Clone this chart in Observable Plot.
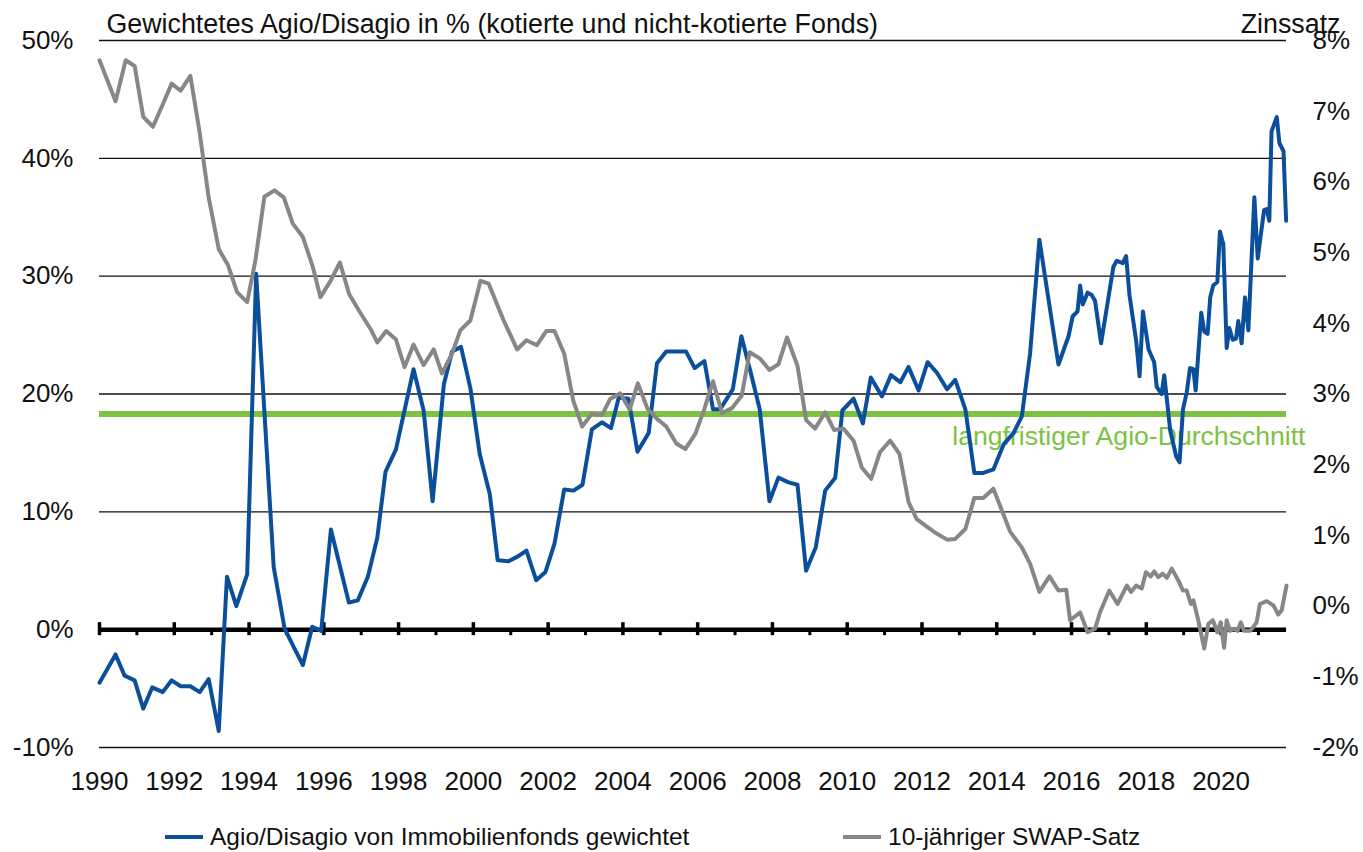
<!DOCTYPE html>
<html><head><meta charset="utf-8">
<script src="https://cdn.jsdelivr.net/npm/d3@7"></script>
<script src="https://cdn.jsdelivr.net/npm/@observablehq/plot@0.6"></script>
<style>
body{margin:0;background:#fff;font-family:"Liberation Sans",Arial,sans-serif;color:#111;}
#chart{position:relative;width:1363px;height:852px;overflow:hidden;}
#chart svg{display:block;}
.legend{position:relative;width:1363px;height:52px;font-size:24.5px;}
.item{position:absolute;top:23px;display:flex;align-items:center;line-height:28px;white-space:nowrap;}
.sw{display:inline-block;width:38px;height:4px;margin-right:7px;}
</style></head><body><div id="chart"></div>
<script>
const titleText = "Gewichtetes Agio/Disagio in % (kotierte und nicht-kotierte Fonds)";
const rightTitle = "Zinssatz";
const avgLabel = "langfristiger Agio-Durchschnitt";
const seriesNames = ["Agio/Disagio von Immobilienfonds gewichtet", "10-jähriger SWAP-Satz"];
const seriesColors = ["#0b4f9c", "#878787"];
const avgColor = "#7dc242";

const agioYears = [1990.00,1990.43,1990.67,1990.94,1991.17,1991.41,1991.69,1991.93,1992.17,1992.43,
1992.68,1992.92,1993.19,1993.41,1993.66,1993.95,1994.19,1994.66,1994.95,1995.20,
1995.44,1995.69,1995.93,1996.19,1996.67,1996.91,1997.18,1997.43,1997.65,1997.93,
1998.40,1998.67,1998.91,1999.21,1999.43,1999.67,1999.92,2000.17,2000.44,2000.65,
2000.94,2001.18,2001.42,2001.68,2001.93,2002.17,2002.43,2002.68,2002.92,2003.17,
2003.44,2003.68,2003.89,2004.15,2004.39,2004.69,2004.91,2005.16,2005.42,2005.69,
2005.92,2006.18,2006.41,2006.60,2006.94,2007.17,2007.42,2007.66,2007.92,2008.16,
2008.43,2008.67,2008.90,2009.16,2009.41,2009.68,2009.87,2010.17,2010.42,2010.63,
2010.93,2011.17,2011.42,2011.64,2011.91,2012.15,2012.40,2012.67,2012.89,2013.16,
2013.40,2013.64,2013.91,2014.18,2014.45,2014.67,2014.89,2015.14,2015.65,2015.92,
2016.03,2016.16,2016.23,2016.30,2016.43,2016.54,2016.63,2016.79,2017.12,2017.21,
2017.37,2017.46,2017.55,2017.73,2017.82,2017.91,2018.06,2018.21,2018.28,2018.41,
2018.48,2018.64,2018.80,2018.89,2018.98,2019.08,2019.17,2019.26,2019.32,2019.47,
2019.55,2019.64,2019.71,2019.79,2019.90,2019.97,2020.06,2020.15,2020.22,2020.31,
2020.40,2020.46,2020.55,2020.64,2020.73,2020.89,2020.98,2021.15,2021.22,2021.29,
2021.35,2021.49,2021.56,2021.67,2021.74];
const agioValues = [-4.5,-2.1,-3.9,-4.3,-6.7,-4.9,-5.3,-4.3,-4.8,-4.8,
-5.3,-4.2,-8.6,4.5,2.0,4.7,30.2,5.3,0.1,-1.5,
-3.0,0.25,-0.1,8.5,2.3,2.5,4.5,7.8,13.4,15.3,
22.1,18.6,10.9,20.8,23.6,24.0,20.5,14.9,11.5,5.9,
5.8,6.2,6.7,4.2,4.9,7.3,11.9,11.8,12.3,17.0,
17.6,17.1,19.7,19.6,15.1,16.7,22.6,23.6,23.6,23.6,
22.2,22.8,18.7,18.7,20.4,24.9,21.8,18.7,10.9,12.9,
12.5,12.3,5.0,7.0,11.8,12.9,18.6,19.6,17.5,21.4,
19.8,21.6,21.0,22.3,20.3,22.7,21.8,20.4,21.2,18.7,
13.3,13.3,13.6,15.7,16.7,18.1,23.4,33.1,22.5,24.9,
26.6,27.0,29.2,27.6,28.6,28.4,27.9,24.3,30.8,31.3,
31.1,31.7,28.4,24.5,21.5,27.0,23.8,22.7,20.6,20.0,
21.6,16.9,14.7,14.2,18.7,20.1,22.2,22.1,20.3,26.9,
25.3,25.1,28.2,29.2,29.5,33.8,32.7,23.9,25.6,24.6,
24.7,26.2,24.3,28.2,25.4,36.7,31.5,35.6,35.7,34.7,
42.3,43.5,41.3,40.6,34.7];

const swapYears = [1990.00,1990.43,1990.70,1990.94,1991.17,1991.43,1991.68,1991.93,1992.17,1992.43,
1992.67,1992.92,1993.19,1993.44,1993.68,1993.95,1994.17,1994.41,1994.68,1994.93,
1995.17,1995.44,1995.71,1995.91,1996.18,1996.43,1996.68,1996.95,1997.25,1997.43,
1997.67,1997.93,1998.16,1998.40,1998.67,1998.94,1999.16,1999.43,1999.65,1999.92,
2000.19,2000.41,2000.81,2001.17,2001.42,2001.70,2001.95,2002.17,2002.43,2002.67,
2002.91,2003.17,2003.44,2003.66,2003.93,2004.18,2004.40,2004.66,2004.91,2005.16,
2005.43,2005.67,2005.94,2006.18,2006.41,2006.65,2006.92,2007.18,2007.39,2007.67,
2007.92,2008.16,2008.39,2008.67,2008.90,2009.14,2009.41,2009.65,2009.90,2010.17,
2010.39,2010.64,2010.88,2011.15,2011.40,2011.64,2011.86,2012.11,2012.38,2012.67,
2012.89,2013.16,2013.40,2013.64,2013.91,2014.14,2014.36,2014.67,2014.89,2015.14,
2015.41,2015.65,2015.86,2015.96,2016.23,2016.43,2016.63,2016.76,2017.01,2017.23,
2017.48,2017.59,2017.73,2017.88,2017.99,2018.12,2018.21,2018.32,2018.44,2018.55,
2018.68,2018.86,2018.98,2019.08,2019.19,2019.26,2019.39,2019.55,2019.66,2019.78,
2019.90,2019.99,2020.08,2020.15,2020.24,2020.35,2020.44,2020.53,2020.61,2020.78,
2020.95,2021.04,2021.22,2021.40,2021.53,2021.62,2021.75];
const swapValues = [7.72,7.14,7.72,7.64,6.92,6.78,7.08,7.39,7.29,7.50,
6.73,5.78,5.05,4.82,4.44,4.30,4.89,5.79,5.88,5.78,
5.41,5.22,4.79,4.37,4.60,4.86,4.41,4.17,3.92,3.73,
3.89,3.77,3.38,3.70,3.41,3.63,3.29,3.57,3.90,4.04,
4.60,4.56,4.04,3.63,3.76,3.69,3.89,3.89,3.57,2.91,
2.54,2.72,2.70,2.93,3.01,2.78,3.15,2.79,2.65,2.54,
2.30,2.22,2.44,2.79,3.18,2.73,2.80,2.98,3.59,3.50,
3.34,3.42,3.80,3.40,2.63,2.51,2.74,2.49,2.51,2.34,
1.96,1.80,2.18,2.34,2.15,1.47,1.23,1.13,1.03,0.94,
0.95,1.09,1.53,1.53,1.66,1.35,1.05,0.83,0.60,0.20,
0.42,0.22,0.23,-0.20,-0.09,-0.37,-0.32,-0.09,0.22,0.03,
0.29,0.20,0.29,0.25,0.48,0.42,0.49,0.41,0.46,0.40,
0.53,0.36,0.22,0.22,0.03,0.08,-0.20,-0.60,-0.25,-0.20,
-0.37,-0.23,-0.59,-0.20,-0.35,-0.32,-0.35,-0.23,-0.35,-0.35,
-0.23,0.03,0.07,0.01,-0.12,-0.06,0.29];

const averageAgio = 18.3;
const leftTicks = [-10, 0, 10, 20, 30, 40, 50];
const gridValues = [-10, 10, 20, 30, 40, 50];
const rightTicks = [-2, -1, 0, 1, 2, 3, 4, 5, 6, 7, 8];
const yearLabels = [1990,1992,1994,1996,1998,2000,2002,2004,2006,2008,2010,2012,2014,2016,2018,2020];
const minorYears = [1991,1993,1995,1997,1999,2001,2003,2005,2007,2009,2011,2013,2015,2017,2019,2021];
const xDomain = [1990, 2021.75];
const leftDomain = [-10, 50];
const rightDomain = [-2, 8];

// map right-axis (Zinssatz) values onto the left scale
const k = (leftDomain[1] - leftDomain[0]) / (rightDomain[1] - rightDomain[0]);
const toLeft = r => leftDomain[0] + (r - rightDomain[0]) * k;
const toRight = l => rightDomain[0] + (l - leftDomain[0]) / k;

const agio = agioYears.map((t, i) => ({t, v: agioValues[i]}));
const swap = swapYears.map((t, i) => ({t, v: toLeft(swapValues[i])}));
const avgData = [{t: xDomain[1], v: averageAgio, label: avgLabel}];

const font = "Liberation Sans, Arial, sans-serif";

const plot = Plot.plot({
  width: 1363, height: 800,
  marginTop: 40, marginBottom: 53, marginLeft: 99, marginRight: 77,
  style: {fontFamily: font, fontSize: "26px", color: "#111", background: "white", overflow: "visible"},
  x: {domain: xDomain, label: null},
  y: {domain: leftDomain, label: null},
  marks: [
    Plot.ruleY(gridValues, {stroke: "#111", strokeWidth: 1.4}),
    Plot.axisY(leftTicks, {anchor: "left", label: null, tickSize: 0, tickPadding: 26, tickFormat: d => d + "%", fontSize: 26, fill: "#111"}),
    Plot.axisY(rightTicks.map(toLeft), {anchor: "right", label: null, tickSize: 0, tickPadding: 26, tickFormat: d => Math.round(toRight(d)) + "%", fontSize: 26, fill: "#111"}),
    Plot.axisX(yearLabels, {anchor: "bottom", label: null, tickSize: 0, tickPadding: 24, tickFormat: d => String(d), fontSize: 26, fill: "#111"}),
    Plot.ruleY([0], {stroke: "#000", strokeWidth: 4.5}),
    Plot.ruleX(yearLabels, {y1: 0, y2: 0, insetTop: -7, insetBottom: -6, stroke: "#000", strokeWidth: 3.5}),
    Plot.ruleX(minorYears, {y1: 0, y2: 0, insetBottom: -6, stroke: "#000", strokeWidth: 3}),
    Plot.ruleY([averageAgio], {stroke: avgColor, strokeWidth: 6}),
    Plot.text(avgData, {x: "t", y: "v", text: "label", textAnchor: "end", dx: 19, dy: 22, fill: avgColor, fontSize: 26.6}),
    Plot.line(agio, {x: "t", y: "v", stroke: seriesColors[0], strokeWidth: 4, strokeLinejoin: "round"}),
    Plot.line(swap, {x: "t", y: "v", stroke: seriesColors[1], strokeWidth: 4, strokeLinejoin: "round"}),
    Plot.text([titleText], {frameAnchor: "top-left", textAnchor: "start", dx: 7, dy: -27, fontSize: 26.8, fill: "#111"}),
    Plot.text([rightTitle], {frameAnchor: "top-right", textAnchor: "end", dx: 54, dy: -27, fontSize: 26.8, fill: "#111"})
  ]
});

const chart = document.getElementById("chart");
chart.appendChild(plot);
const legend = document.createElement("div");
legend.className = "legend";
const lefts = [165, 843];
seriesNames.forEach((name, i) => {
  const item = document.createElement("div");
  item.className = "item";
  item.style.left = lefts[i] + "px";
  const sw = document.createElement("span");
  sw.className = "sw";
  sw.style.background = seriesColors[i];
  item.appendChild(sw);
  item.appendChild(document.createTextNode(name));
  legend.appendChild(item);
});
chart.appendChild(legend);
</script></body></html>
